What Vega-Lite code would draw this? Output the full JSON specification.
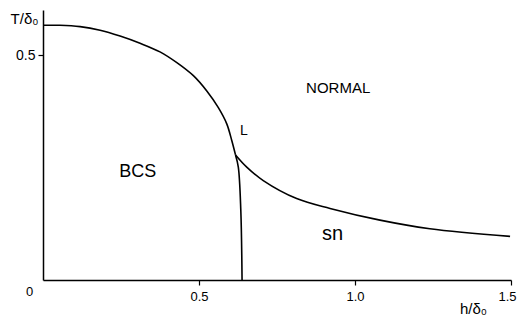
{
  "$schema": "https://vega.github.io/schema/vega-lite/v6.json",
  "width": 468,
  "height": 270,
  "autosize": {"type": "none"},
  "padding": {"left": 43, "top": 10, "right": 8, "bottom": 40},
  "background": "white",
  "config": {
    "view": {"stroke": null},
    "font": "Liberation Sans",
    "axis": {"grid": false, "domainColor": "black", "domainWidth": 1.5, "tickColor": "black", "tickWidth": 1.2, "tickSize": 5, "labelColor": "black", "labelFont": "Liberation Sans", "labelFontSize": 14, "titleFont": "Liberation Sans", "titleFontWeight": "normal", "titleColor": "black", "titleFontSize": 15}
  },
  "datasets": {
    "curves": [
      {"series": "bcs_normal", "i": 0, "h": 0.0, "T": 0.566},
      {"series": "bcs_normal", "i": 1, "h": 0.054, "T": 0.566},
      {"series": "bcs_normal", "i": 2, "h": 0.119, "T": 0.563},
      {"series": "bcs_normal", "i": 3, "h": 0.183, "T": 0.555},
      {"series": "bcs_normal", "i": 4, "h": 0.247, "T": 0.542},
      {"series": "bcs_normal", "i": 5, "h": 0.311, "T": 0.526},
      {"series": "bcs_normal", "i": 6, "h": 0.375, "T": 0.507},
      {"series": "bcs_normal", "i": 7, "h": 0.429, "T": 0.483},
      {"series": "bcs_normal", "i": 8, "h": 0.482, "T": 0.454},
      {"series": "bcs_normal", "i": 9, "h": 0.525, "T": 0.420},
      {"series": "bcs_normal", "i": 10, "h": 0.562, "T": 0.383},
      {"series": "bcs_normal", "i": 11, "h": 0.589, "T": 0.347},
      {"series": "bcs_normal", "i": 12, "h": 0.605, "T": 0.310},
      {"series": "bcs_normal", "i": 13, "h": 0.617, "T": 0.278},
      {"series": "bcs_sn", "i": 0, "h": 0.617, "T": 0.278},
      {"series": "bcs_sn", "i": 1, "h": 0.626, "T": 0.251},
      {"series": "bcs_sn", "i": 2, "h": 0.634, "T": 0.155},
      {"series": "bcs_sn", "i": 3, "h": 0.638, "T": 0.0},
      {"series": "sn_normal", "i": 0, "h": 0.617, "T": 0.278},
      {"series": "sn_normal", "i": 1, "h": 0.653, "T": 0.251},
      {"series": "sn_normal", "i": 2, "h": 0.706, "T": 0.221},
      {"series": "sn_normal", "i": 3, "h": 0.813, "T": 0.181},
      {"series": "sn_normal", "i": 4, "h": 0.920, "T": 0.159},
      {"series": "sn_normal", "i": 5, "h": 1.080, "T": 0.133},
      {"series": "sn_normal", "i": 6, "h": 1.240, "T": 0.114},
      {"series": "sn_normal", "i": 7, "h": 1.497, "T": 0.097}
    ],
    "labels": [
      {"text": "BCS", "h": 0.304, "T": 0.2285, "size": 18},
      {"text": "NORMAL", "h": 0.946, "T": 0.4166, "size": 15},
      {"text": "L", "h": 0.644, "T": 0.323, "size": 14},
      {"text": "sn", "h": 0.928, "T": 0.0898, "size": 20}
    ]
  },
  "layer": [
    {
      "data": {"name": "curves"},
      "mark": {"type": "line", "color": "black", "strokeWidth": 1.6, "interpolate": "catmull-rom"},
      "encoding": {
        "x": {
          "field": "h", "type": "quantitative",
          "scale": {"domain": [0, 1.5], "nice": false, "zero": true},
          "axis": {
            "values": [0, 0.5, 1, 1.5],
            "labelExpr": "datum.value == 0 ? '0' : format(datum.value, '.1f')",
            "labelOffset": {"condition": [{"test": "datum.value == 0", "value": -14}, {"test": "datum.value == 1.5", "value": -4}], "value": 0},
            "labelPadding": {"condition": {"test": "datum.value == 0", "value": 0}, "value": 5},
            "tickOpacity": {"condition": {"test": "datum.value == 0", "value": 0}, "value": 1},
            "labelFontSize": 13,
            "labelFlush": false,
            "labelBaseline": "top",
            "title": "h/δ₀",
            "titleX": 430,
            "titleY": 28,
            "titleAlign": "center",
            "titleBaseline": "middle"
          }
        },
        "y": {
          "field": "T", "type": "quantitative",
          "scale": {"domain": [0, 0.6], "nice": false},
          "axis": {
            "values": [0.5],
            "format": ".1f",
            "labelPadding": 3,
            "title": "T/δ₀",
            "titleAngle": 0,
            "titleX": -19,
            "titleY": 8,
            "titleAlign": "center",
            "titleBaseline": "middle"
          }
        },
        "detail": {"field": "series"},
        "order": {"field": "i", "type": "quantitative"}
      }
    },
    {
      "data": {"name": "labels"},
      "mark": {"type": "text", "color": "black", "font": "Liberation Sans", "align": "center", "baseline": "alphabetic"},
      "encoding": {
        "x": {"field": "h", "type": "quantitative"},
        "y": {"field": "T", "type": "quantitative"},
        "text": {"field": "text"},
        "size": {"field": "size", "type": "quantitative", "scale": null}
      }
    }
  ]
}
